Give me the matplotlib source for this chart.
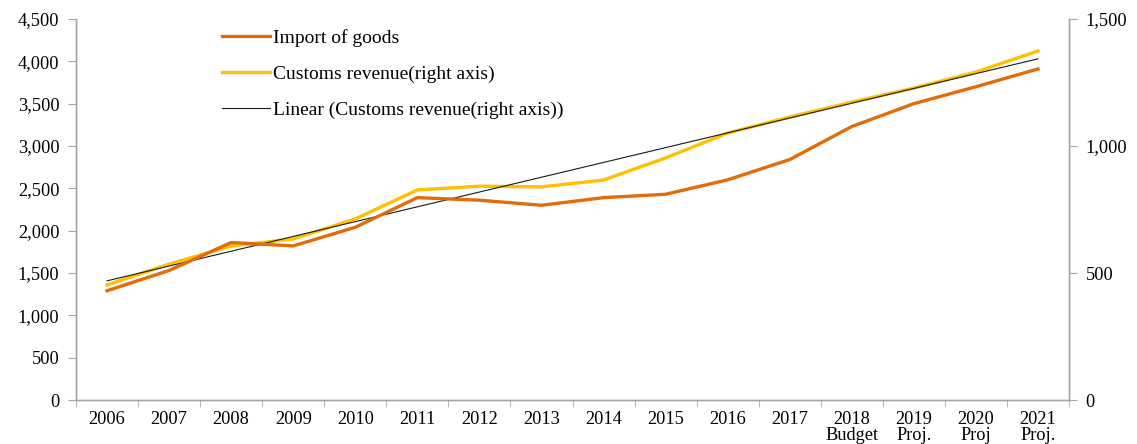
import matplotlib
matplotlib.use("Agg")
import matplotlib.pyplot as plt
import numpy as np
from matplotlib.ticker import FuncFormatter, FixedLocator

categories = ["2006", "2007", "2008", "2009", "2010", "2011", "2012", "2013",
              "2014", "2015", "2016", "2017", "2018\nBudget", "2019\nProj.",
              "2020\nProj", "2021\nProj."]
import_goods = [1290, 1530, 1860, 1820, 2040, 2390, 2360, 2300,
                2390, 2430, 2600, 2840, 3230, 3500, 3700, 3910]
customs_revenue = [453, 535, 606, 634, 713, 827, 842, 839,
                   866, 953, 1051, 1114, 1173, 1228, 1291, 1374]
left_ticks = [0, 500, 1000, 1500, 2000, 2500, 3000, 3500, 4000, 4500]
right_ticks = [0, 500, 1000, 1500]

plt.rcParams['font.family'] = ['Liberation Serif', 'DejaVu Serif']
FS = 13.2
ORANGE = "#E36C0A"
YELLOW = "#FFC000"
GRAY = "#A6A6A6"

fig = plt.figure(figsize=(11.37, 4.44), dpi=100)
ax = fig.add_axes([76/1137, 1-400/444, (1069-76)/1137, (400-19)/444])
ax2 = ax.twinx()

x = np.arange(len(categories))
l1, = ax.plot(x, import_goods, color=ORANGE, lw=2.4, solid_joinstyle='round',
              label="Import of goods", zorder=3)
l2, = ax2.plot(x, customs_revenue, color=YELLOW, lw=2.4, solid_joinstyle='round',
               label="Customs revenue(right axis)", zorder=3)
coef = np.polyfit(x, customs_revenue, 1)
l3, = ax2.plot(x, np.polyval(coef, x), color="#1a1a1a", lw=0.8,
               label="Linear (Customs revenue(right axis))", zorder=4)

ax.set_xlim(-0.5, len(categories) - 0.5)
ax.set_ylim(0, 4500)
ax2.set_ylim(0, 1500)
ax.yaxis.set_major_locator(FixedLocator(left_ticks))
ax2.yaxis.set_major_locator(FixedLocator(right_ticks))
fmt = FuncFormatter(lambda v, p: f"{int(v):,}")
ax.yaxis.set_major_formatter(fmt)
ax2.yaxis.set_major_formatter(fmt)

ax.set_xticks(x)
ax.set_xticklabels(categories, fontsize=FS, linespacing=0.95, va='top')
ax.set_xticks(np.arange(-0.5, len(categories), 1.0), minor=True)
ax.tick_params(axis='x', which='major', length=0, pad=8)
ax.tick_params(axis='x', which='minor', length=5, color=GRAY, direction='out')
ax.tick_params(axis='y', length=6, color=GRAY, labelsize=FS, pad=6)
ax2.tick_params(axis='y', length=6, color=GRAY, labelsize=FS, pad=6)

for a in (ax, ax2):
    a.spines['top'].set_visible(False)
    for s in ('left', 'right', 'bottom'):
        a.spines[s].set_color(GRAY)
        a.spines[s].set_linewidth(1.0)

ax.set_zorder(ax2.get_zorder() + 1)
ax.patch.set_visible(False)

leg = ax.legend(handles=[l1, l2, l3], loc='upper left',
                bbox_to_anchor=(214/1137, 1-21/444), bbox_transform=fig.transFigure,
                frameon=False, fontsize=14, handlelength=2.5,
                handletextpad=0.15, labelspacing=0.95, borderaxespad=0)

fig.savefig("out.png", dpi=100)
